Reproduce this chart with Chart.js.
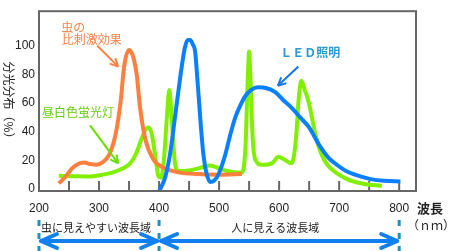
<!DOCTYPE html>
<html>
<head>
<meta charset="utf-8">
<script src="https://cdn.jsdelivr.net/npm/chart.js@4.4.1/dist/chart.umd.min.js"></script>
<style>
  html, body { margin: 0; padding: 0; background: #fff; }
  #wrap { width: 456px; height: 251px; }
</style>
</head>
<body>
<div id="wrap"><canvas id="spectrum"></canvas></div>
<script>
// tick labels
const xLabels = [200, 300, 400, 500, 600, 700, 800];
const xMarks = [250, 300, 350, 400, 450, 500, 550, 600, 650, 700, 750, 800];
const yLabels = [0, 20, 40, 60, 80, 100];

// 虫の比刺激効果
const insectNm  = [233, 245, 255, 265, 275, 285, 295, 305, 317, 328, 336, 342, 350, 357, 363, 368, 377, 390, 407, 435, 463, 500, 538];
const insectVal = [4, 9, 14.5, 17.5, 18.5, 17.5, 17, 18.5, 24, 39, 61, 86, 97, 92, 79, 58, 35, 21, 15, 11.5, 10.5, 10, 10.5];

// 昼白色蛍光灯
const lampNm  = [233, 260, 283, 305, 322, 340, 352, 362, 370, 377, 383, 388, 394, 399, 403, 408, 413, 417, 421, 426, 432, 450, 470, 485, 500, 513, 538, 544, 548, 550, 552, 556, 560, 571, 588, 599, 607, 621, 628, 633, 637, 642, 649, 660, 668, 677, 685, 713, 740, 771];
const lampVal = [9.3, 9, 8.8, 10, 11.5, 14.5, 18, 25, 34, 41, 43, 38, 22, 9, 8, 20, 50, 69, 50, 20, 12.6, 13, 15, 16.5, 14.5, 12.6, 11.5, 30, 80, 96, 80, 35, 21, 17, 18, 22.5, 21, 18, 35, 65, 75.5, 70, 61, 39, 27, 19, 14.8, 7, 3.8, 2.2];

// LED照明
const ledNm  = [400, 410, 418, 425, 432, 438, 443, 448, 452, 456, 460, 465, 470, 474, 479, 485, 492, 499, 510, 518, 527, 535, 543, 553, 565, 578, 593, 607, 621, 635, 649, 668, 682, 696, 710, 724, 738, 752, 775, 802];
const ledVal = [-1.5, 8, 23.6, 45, 67.7, 86, 98.7, 104, 104, 101, 96, 70, 42, 23.6, 11, 5, 6, 10.4, 23.6, 36.9, 50, 58, 64.5, 69, 71, 70.5, 67.7, 62, 56.7, 50, 43.5, 30, 22, 17, 13, 10.4, 8.5, 7, 5.8, 5.3];

const pts = (xs, ys) => xs.map((x, i) => ({ x: x, y: ys[i] }));

const jp = '"Noto Sans CJK JP", sans-serif';

function arrowHead(ctx, x, y, dir, len, half) {
    ctx.beginPath();
    ctx.moveTo(x + dir * len, y - half);
    ctx.lineTo(x, y);
    ctx.lineTo(x + dir * len, y + half);
    ctx.stroke();
}

function pointer(ctx, x1, y1, x2, y2, color) {
    ctx.save();
    ctx.strokeStyle = color;
    ctx.lineWidth = 2;
    ctx.beginPath();
    ctx.moveTo(x1, y1);
    ctx.lineTo(x2, y2);
    ctx.stroke();
    const a = Math.atan2(y2 - y1, x2 - x1);
    ctx.beginPath();
    ctx.moveTo(x2, y2);
    ctx.lineTo(x2 - 9 * Math.cos(a - 0.45), y2 - 9 * Math.sin(a - 0.45));
    ctx.moveTo(x2, y2);
    ctx.lineTo(x2 - 9 * Math.cos(a + 0.45), y2 - 9 * Math.sin(a + 0.45));
    ctx.stroke();
    ctx.restore();
}

const decorations = {
    id: 'decorations',
    beforeDatasetsDraw(chart) {
        const { ctx, chartArea, scales: { x } } = chart;
        ctx.save();
        ctx.strokeStyle = '#666';
        ctx.lineWidth = 2;
        xMarks.forEach(v => {
            const px = x.getPixelForValue(v);
            ctx.beginPath();
            ctx.moveTo(px, chartArea.bottom);
            ctx.lineTo(px, chartArea.bottom - 10);
            ctx.stroke();
        });
        ctx.restore();
    },
    afterDatasetsDraw(chart) {
        const { ctx, chartArea, scales: { x, y } } = chart;
        ctx.save();
        // frame
        ctx.strokeStyle = '#666';
        ctx.lineWidth = 2;
        ctx.strokeRect(chartArea.left, chartArea.top, chartArea.right - chartArea.left, chartArea.bottom - chartArea.top);

        const X = v => x.getPixelForValue(v);
        const Y = v => y.getPixelForValue(v);

        // series labels
        ctx.textBaseline = 'middle';
        ctx.textAlign = 'left';
        ctx.font = '12px ' + jp;
        ctx.fillStyle = '#F5824A';
        ctx.fillText('虫の', X(237), Y(113));
        ctx.fillText('比刺激効果', X(238), Y(104));
        pointer(ctx, X(297), Y(100), X(332), Y(85.4), '#FF7F3F');

        ctx.fillStyle = '#66CC11';
        ctx.fillText('昼白色蛍光灯', X(205), Y(53.6));
        pointer(ctx, X(285), Y(44.4), X(332), Y(17.9), '#66E000');

        ctx.fillStyle = '#2A9AD0';
        ctx.font = 'bold 12px ' + jp;
        ctx.fillText('ＬＥＤ照明', X(602), Y(95.4));
        pointer(ctx, X(632), Y(85.4), X(598), Y(72), '#1575E5');

        // y axis title, written top to bottom
        ctx.save();
        ctx.translate(9, 103);
        ctx.rotate(Math.PI / 2);
        ctx.textAlign = 'center';
        ctx.fillStyle = '#222';
        ctx.font = '12px ' + jp;
        ctx.fillText('分光分布（%）', 0, 0);
        ctx.restore();

        // unit
        ctx.fillStyle = '#222';
        ctx.textAlign = 'left';
        ctx.font = 'bold 13px ' + jp;
        ctx.fillText('波長', 417, 208);
        ctx.font = '12px ' + jp;
        ctx.fillText('（ｎｍ）', 407, 225);

        // wavelength ranges
        const x200 = X(200), x400 = X(400), x800 = X(800);
        ctx.strokeStyle = '#2090C0';
        ctx.lineWidth = 3;
        ctx.setLineDash([6, 7]);
        [x200, x400, x800].forEach(px => {
            ctx.beginPath();
            ctx.moveTo(px, 220);
            ctx.lineTo(px, 251);
            ctx.stroke();
        });
        ctx.setLineDash([]);

        ctx.strokeStyle = '#1080F0';
        ctx.lineWidth = 4;
        ctx.lineCap = 'round';
        ctx.lineJoin = 'round';
        [[x200, x400], [x400, x800]].forEach(([a, b]) => {
            ctx.beginPath();
            ctx.moveTo(a + 2, 241);
            ctx.lineTo(b - 2, 241);
            ctx.stroke();
            arrowHead(ctx, a + 2, 241, 1, 16, 7);
            arrowHead(ctx, b - 2, 241, -1, 16, 7);
        });

        ctx.fillStyle = '#222';
        ctx.textAlign = 'center';
        ctx.font = '11px ' + jp;
        ctx.fillText('虫に見えやすい波長域', (x200 + x400) / 2 - 3, 228);
        ctx.fillText('人に見える波長域', (x400 + x800) / 2 - 4, 228);
        ctx.restore();
    }
};

const line = (data, color, order) => ({
    data: data,
    borderColor: color,
    backgroundColor: color,
    borderWidth: 4,
    pointRadius: 0,
    fill: false,
    cubicInterpolationMode: 'monotone',
    order: order
});

new Chart(document.getElementById('spectrum'), {
    type: 'line',
    data: {
        datasets: [
            line(pts(ledNm, ledVal), '#0A80FF', 0),
            line(pts(insectNm, insectVal), '#FF7F3F', 1),
            line(pts(lampNm, lampVal), '#80F000', 2)
        ]
    },
    options: {
        responsive: true,
        maintainAspectRatio: false,
        animation: false,
        events: [],
        layout: { padding: { top: 2, right: 40, left: 0, bottom: 0 } },
        plugins: {
            legend: { display: false },
            tooltip: { enabled: false }
        },
        scales: {
            x: {
                type: 'linear',
                min: 200,
                max: 828,
                afterFit: s => { s.height = 60; },
                afterBuildTicks: s => { s.ticks = xLabels.map(v => ({ value: v })); },
                grid: { display: false, drawTicks: false },
                border: { display: false },
                ticks: {
                    padding: 10,
                    maxRotation: 0,
                    autoSkip: false,
                    color: '#222',
                    font: { family: '"Liberation Sans", Arial, sans-serif', size: 12 }
                }
            },
            y: {
                min: -1.3,
                max: 124,
                afterFit: s => { s.width = 39; },
                afterBuildTicks: s => { s.ticks = yLabels.map(v => ({ value: v })); },
                grid: { display: false, drawTicks: false },
                border: { display: false },
                ticks: {
                    padding: 4,
                    color: '#222',
                    font: { family: '"Liberation Sans", Arial, sans-serif', size: 12 }
                }
            }
        }
    },
    plugins: [decorations]
});
</script>
</body>
</html>
